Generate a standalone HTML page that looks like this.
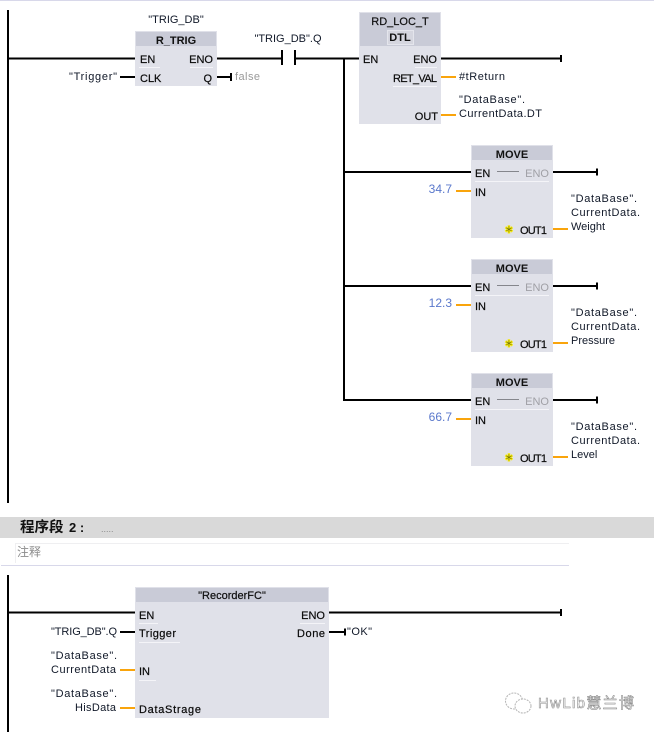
<!DOCTYPE html>
<html><head><meta charset="utf-8">
<style>
html,body{margin:0;padding:0;background:#fff;width:654px;height:732px;overflow:hidden}
svg{display:block}
text{font-family:"Liberation Sans","Noto Sans CJK SC",sans-serif;font-size:11px;fill:#101828}
.p{fill:#0a0a0a;stroke:#0a0a0a;stroke-width:.2px}
.g{fill:#a0a0a6}
.h{text-anchor:middle;font-weight:bold;fill:#111}
.v{fill:#5a78cc;font-size:12px;text-anchor:end}
.st{font-size:10px;text-anchor:middle;fill:#6a6a10;stroke:#f4e80a;stroke-width:.9px}
.c{fill:#e0e1e9}.hd{fill:#c9cbd7}
.w{stroke:#000;stroke-width:2;fill:none}
.o{stroke:#f9a40c;stroke-width:2;fill:none}
.s{stroke:#f4f4f8;stroke-width:1;fill:none}
</style></head><body>
<svg width="654" height="732" viewBox="0 0 654 732" xmlns="http://www.w3.org/2000/svg">
<rect x="0" y="0" width="654" height="1" fill="#d8d8ea"/>
<!-- rails -->
<path class="w" d="M8 10V503M8 575V732"/>
<!-- R_TRIG -->
<rect class="c" x="135" y="31" width="82" height="55"/>
<rect class="hd" x="136" y="32" width="80" height="14"/>
<text class="h" x="176" y="44">R_TRIG</text>
<text class="p" x="140" y="63">EN</text><text class="p" x="213" y="63" text-anchor="end">ENO</text>
<text class="p" x="140" y="82">CLK</text><text class="p" x="212" y="82" text-anchor="end">Q</text>
<path class="s" d="M139 67.500H160M190 67.500H213"/>
<text x="176" y="23" text-anchor="middle" font-size="10.500">"TRIG_DB"</text>
<text x="288" y="42" text-anchor="middle" font-size="10.500">"TRIG_DB".Q</text>
<text x="117" y="80" text-anchor="end" textLength="48">"Trigger"</text>
<text x="235" y="80" style="fill:#9a9a9a" textLength="25">false</text>
<path class="w" d="M8 58.500H135M217 58.500H282M296 58.500H359"/>
<path class="w" d="M282 50V65M295 50V65"/>
<path class="w" d="M120 77H135M217 77H231M231 73V81"/>
<!-- RD_LOC_T -->
<rect class="c" x="359" y="12" width="82" height="112"/>
<rect class="hd" x="360" y="13" width="80" height="33"/>
<text class="h p" x="400" y="25" style="font-weight:normal">RD_LOC_T</text>
<rect x="387.500" y="30.500" width="26" height="14" fill="#d5d6df" stroke="#e4e5ec"/>
<text class="h" x="400" y="41">DTL</text>
<text class="p" x="363" y="63">EN</text><text class="p" x="437" y="63" text-anchor="end">ENO</text>
<text class="p" x="437" y="82" text-anchor="end" textLength="44">RET_VAL</text>
<text class="p" x="438" y="120" text-anchor="end">OUT</text>
<path class="s" d="M415 67.500H437M393 86.500H437"/>
<text x="459" y="80" textLength="46">#tReturn</text>
<text x="459" y="103" textLength="66">"DataBase".</text>
<text x="459" y="117" textLength="83">CurrentData.DT</text>
<path class="w" d="M441 58.500H561M561 55V62"/>
<path class="o" d="M441 77H456M441 115H456"/>
<!-- branch -->
<path class="w" d="M344 58V401M344 172H471M344 286H471M344 400H471"/>
<!-- MOVE 1 -->
<g>
<rect class="c" x="471" y="145" width="82" height="93"/>
<rect class="hd" x="472" y="146" width="80" height="14"/>
<text class="h" x="512" y="158">MOVE</text>
<text class="p" x="475" y="177">EN</text><text class="g" x="549" y="177" text-anchor="end">ENO</text>
<path d="M497 171.500H519" stroke="#85868c" stroke-width="1"/>
<path class="s" d="M475 181.500H549"/>
<text class="p" x="475" y="196">IN</text>
<text class="p" x="547" y="234" text-anchor="end" textLength="27">OUT1</text>
<text class="st" x="509" y="233">✱</text>
<path class="w" d="M553 172H597M597 168.500V175.500"/>
<path class="o" d="M456 191H471M553 229H568"/>
<text x="571" y="202" textLength="66">"DataBase".</text>
<text x="571" y="216" textLength="69">CurrentData.</text>
<text x="571" y="230">Weight</text>
<text class="v" x="452" y="193">34.7</text>
</g>
<!-- MOVE 2 -->
<g transform="translate(0,114)">
<rect class="c" x="471" y="145" width="82" height="93"/>
<rect class="hd" x="472" y="146" width="80" height="14"/>
<text class="h" x="512" y="158">MOVE</text>
<text class="p" x="475" y="177">EN</text><text class="g" x="549" y="177" text-anchor="end">ENO</text>
<path d="M497 171.500H519" stroke="#85868c" stroke-width="1"/>
<path class="s" d="M475 181.500H549"/>
<text class="p" x="475" y="196">IN</text>
<text class="p" x="547" y="234" text-anchor="end" textLength="27">OUT1</text>
<text class="st" x="509" y="233">✱</text>
<path class="w" d="M553 172H597M597 168.500V175.500"/>
<path class="o" d="M456 191H471M553 229H568"/>
<text x="571" y="202" textLength="66">"DataBase".</text>
<text x="571" y="216" textLength="69">CurrentData.</text>
<text x="571" y="230">Pressure</text>
<text class="v" x="452" y="193">12.3</text>
</g>
<!-- MOVE 3 -->
<g transform="translate(0,228)">
<rect class="c" x="471" y="145" width="82" height="93"/>
<rect class="hd" x="472" y="146" width="80" height="14"/>
<text class="h" x="512" y="158">MOVE</text>
<text class="p" x="475" y="177">EN</text><text class="g" x="549" y="177" text-anchor="end">ENO</text>
<path d="M497 171.500H519" stroke="#85868c" stroke-width="1"/>
<path class="s" d="M475 181.500H549"/>
<text class="p" x="475" y="196">IN</text>
<text class="p" x="547" y="234" text-anchor="end" textLength="27">OUT1</text>
<text class="st" x="509" y="233">✱</text>
<path class="w" d="M553 172H597M597 168.500V175.500"/>
<path class="o" d="M456 191H471M553 229H568"/>
<text x="571" y="202" textLength="66">"DataBase".</text>
<text x="571" y="216" textLength="69">CurrentData.</text>
<text x="571" y="230">Level</text>
<text class="v" x="452" y="193">66.7</text>
</g>
<!-- section header -->
<rect x="0" y="517" width="654" height="21" fill="#d9d9d9"/>
<text x="20" y="532" style="font-size:14.500px;font-weight:bold;fill:#111">程序段</text>
<text x="69" y="532" style="font-size:13px;font-weight:bold;fill:#111">2 :</text>
<text x="101" y="532" style="fill:#8a8a8a;font-size:9px">.....</text>
<path d="M15.500 563V543.500H569" stroke="#efeff1" fill="none"/>
<text x="17" y="556" style="fill:#8c8c8c;font-size:12px">注释</text>
<rect x="1" y="565" width="568" height="1" fill="#d8d8ea"/>
<!-- RecorderFC -->
<rect class="c" x="135" y="587" width="194" height="131"/>
<rect class="hd" x="136" y="588" width="192" height="14"/>
<text class="h p" x="232" y="599" style="font-weight:normal">"RecorderFC"</text>
<text class="p" x="139" y="619">EN</text><text class="p" x="325" y="619" text-anchor="end">ENO</text>
<text class="p" x="139" y="637" textLength="37">Trigger</text><text class="p" x="325" y="637" text-anchor="end" textLength="28">Done</text>
<text class="p" x="139" y="675">IN</text>
<text class="p" x="139" y="713" textLength="62">DataStrage</text>
<path class="s" d="M139 623.500H158M300 623.500H325M139 642.500H180M139 680.500H156"/>
<text x="117" y="635" text-anchor="end" textLength="66">"TRIG_DB".Q</text>
<text x="117" y="659" text-anchor="end" textLength="66">"DataBase".</text>
<text x="116" y="673" text-anchor="end" textLength="65">CurrentData</text>
<text x="117" y="697" text-anchor="end" textLength="66">"DataBase".</text>
<text x="116" y="711" text-anchor="end" textLength="41">HisData</text>
<path class="w" d="M8 612.500H135M329 612.500H561M561 609V616"/>
<path class="w" d="M120 632H135M329 632H345M345 628.500V635.500"/>
<path class="o" d="M120 670H135M120 708H135"/>
<text x="347" y="635" textLength="25">"OK"</text>
<!-- watermark -->
<g fill="#fff" stroke="#b5b5b5" stroke-width="1" stroke-dasharray="2 1">
<ellipse cx="514" cy="701" rx="8.500" ry="8"/>
<ellipse cx="523" cy="706" rx="8" ry="7"/>
</g>
<text x="538" y="708" style="font-size:15px;fill:#fff;stroke:#8e8e8e;stroke-width:.6px" textLength="96">HwLib慧兰博</text>
</svg>
</body></html>
